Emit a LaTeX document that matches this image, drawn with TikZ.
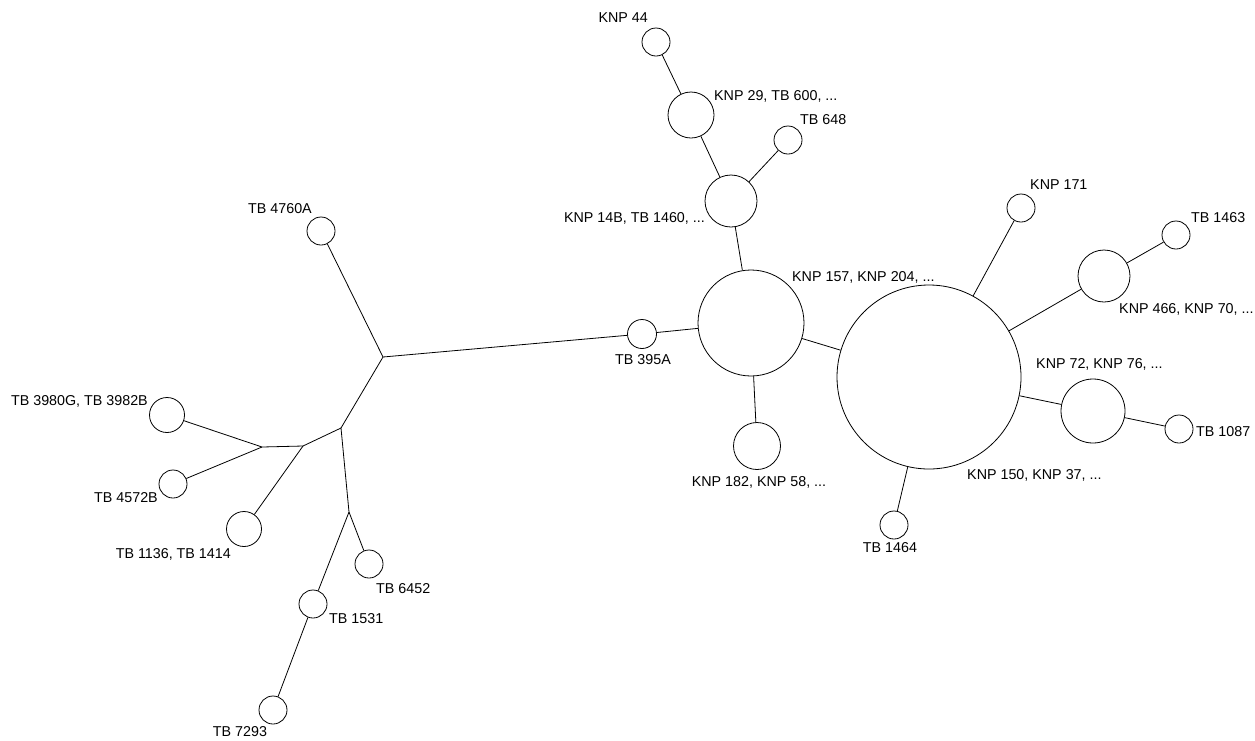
\documentclass[tikz,border=0pt]{standalone}
\usepackage{fontspec}
\setmainfont{Liberation Sans}
\begin{document}
\begin{tikzpicture}[x=1pt,y=-1pt,
  nd/.style={circle,draw,fill=white,inner sep=0pt,minimum size=#1,line width=0.8pt},
  lbl/.style={inner sep=0pt,font=\fontsize{14.3}{16}\selectfont},
  edge/.style={line width=0.8pt}]
\useasboundingbox (0,0) rectangle (1255,740);
% junction coordinates
\coordinate (j1) at (383,357);
\coordinate (j2) at (341,428);
\coordinate (j3) at (303,446);
\coordinate (j4) at (262,447);
\coordinate (j5) at (349,512);
% nodes
\node[nd=28] (knp44) at (656,42) {};
\node[nd=46] (knp29) at (691,115) {};
\node[nd=28] (tb648) at (788,140) {};
\node[nd=52] (knp14b) at (731,201) {};
\node[nd=106] (knp157) at (751,323) {};
\node[nd=29] (tb395a) at (642,334) {};
\node[nd=47] (knp182) at (757,446) {};
\node[nd=184] (knp150) at (929,377) {};
\node[nd=28] (knp171) at (1021,208) {};
\node[nd=28] (tb1463) at (1176,235) {};
\node[nd=52] (knp466) at (1104,276) {};
\node[nd=64] (knp72) at (1093,411) {};
\node[nd=28] (tb1087) at (1179,429) {};
\node[nd=28] (tb1464) at (894,525) {};
\node[nd=28] (tb4760a) at (321,231) {};
\node[nd=35] (tb3980g) at (167,415) {};
\node[nd=28] (tb4572b) at (173,484) {};
\node[nd=35] (tb1136) at (244,529) {};
\node[nd=28] (tb6452) at (369,564) {};
\node[nd=28] (tb1531) at (313,604) {};
\node[nd=28] (tb7293) at (273,710) {};
% edges
\draw[edge] (knp44) -- (knp29);
\draw[edge] (knp29) -- (knp14b);
\draw[edge] (tb648) -- (knp14b);
\draw[edge] (knp14b) -- (knp157);
\draw[edge] (tb395a) -- (knp157);
\draw[edge] (knp157) -- (knp182);
\draw[edge] (knp157) -- (knp150);
\draw[edge] (knp150) -- (knp171);
\draw[edge] (knp150) -- (knp466);
\draw[edge] (knp466) -- (tb1463);
\draw[edge] (knp150) -- (knp72);
\draw[edge] (knp72) -- (tb1087);
\draw[edge] (knp150) -- (tb1464);
\draw[edge] (j1) -- (tb395a);
\draw[edge] (j1) -- (tb4760a);
\draw[edge] (j1) -- (j2);
\draw[edge] (j2) -- (j3);
\draw[edge] (j2) -- (j5);
\draw[edge] (j3) -- (j4);
\draw[edge] (j3) -- (tb1136);
\draw[edge] (j4) -- (tb3980g);
\draw[edge] (j4) -- (tb4572b);
\draw[edge] (j5) -- (tb6452);
\draw[edge] (j5) -- (tb1531);
\draw[edge] (tb1531) -- (tb7293);
% labels
\node[lbl,anchor=east] (l44) at (648,18) {KNP 44};
\node[lbl,anchor=west] (l29) at (714,96) {KNP 29, TB 600, ...};
\node[lbl,anchor=west] (l648) at (800,120) {TB 648};
\node[lbl,anchor=east] (l14b) at (705,218) {KNP 14B, TB 1460, ...};
\node[lbl,anchor=west] (l157) at (792,277) {KNP 157, KNP 204, ...};
\node[lbl] (l395) at (643,360) {TB 395A};
\node[lbl] (l182) at (759,482) {KNP 182, KNP 58, ...};
\node[lbl,anchor=west] (l171) at (1030,185) {KNP 171};
\node[lbl,anchor=west] (l1463) at (1191,218) {TB 1463};
\node[lbl,anchor=west] (l466) at (1119,309) {KNP 466, KNP 70, ...};
\node[lbl,anchor=west] (l72) at (1036,364) {KNP 72, KNP 76, ...};
\node[lbl,anchor=west] (l1087) at (1196,432) {TB 1087};
\node[lbl,anchor=west] (l150) at (967,475) {KNP 150, KNP 37, ...};
\node[lbl] (l1464) at (890,548) {TB 1464};
\node[lbl,anchor=east] (l4760) at (312,209) {TB 4760A};
\node[lbl,anchor=east] (l3980) at (148,401) {TB 3980G, TB 3982B};
\node[lbl,anchor=east] (l4572) at (158,498) {TB 4572B};
\node[lbl,anchor=east] (l1136) at (231,554) {TB 1136, TB 1414};
\node[lbl,anchor=west] (l6452) at (376,589) {TB 6452};
\node[lbl,anchor=west] (l1531) at (329,619) {TB 1531};
\node[lbl] (l7293) at (240,732) {TB 7293};
\end{tikzpicture}
\end{document}
